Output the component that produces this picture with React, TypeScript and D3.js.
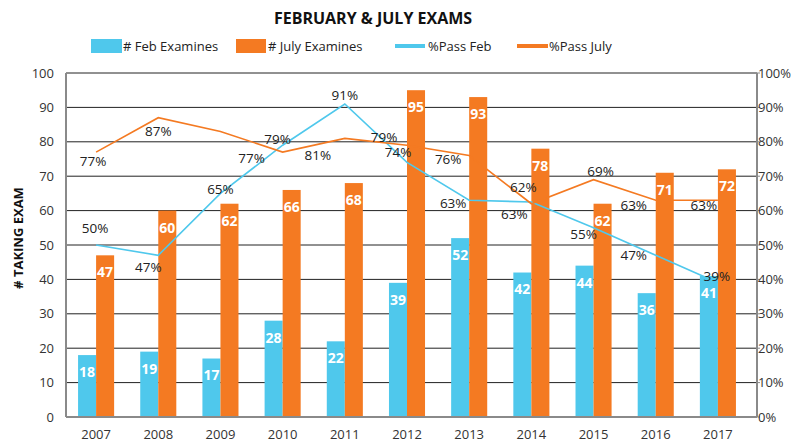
import React from "react";
import * as d3 from "d3";

const years = ["2007", "2008", "2009", "2010", "2011", "2012", "2013", "2014", "2015", "2016", "2017"];
const febExaminees = [18, 19, 17, 28, 22, 39, 52, 42, 44, 36, 41];
const julyExaminees = [47, 60, 62, 66, 68, 95, 93, 78, 62, 71, 72];
const passFeb = [0.5, 0.47, 0.65, 0.79, 0.91, 0.74, 0.63, 0.625, 0.55, 0.47, 0.39];
const passJuly = [0.77, 0.87, 0.83, 0.77, 0.81, 0.79, 0.76, 0.62, 0.69, 0.63, 0.63];
const leftTicks = [0, 10, 20, 30, 40, 50, 60, 70, 80, 90, 100];
const rightTicks = [0, 0.1, 0.2, 0.3, 0.4, 0.5, 0.6, 0.7, 0.8, 0.9, 1];

// label nudges (px) for the % labels, null = no label shown
const febLabelOffset: [number, number][] = [
  [-1, -17], [-10, 12], [0, -4], [-5, -6], [0, -9], [-9, -10],
  [-16, 3], [-17, 12], [-10, 6], [-22, 0], [-1, -7],
];
const julyLabelOffset: ([number, number] | null)[] = [
  [-3, 9], [0, 14], null, [-31, 6], [-27, 17], [-23, -8],
  [-21, 4], [-8, -16], [7, -8], [-22, 5], [-14, 5],
];

const BLUE = "#4FC8EC";
const ORANGE = "#F47A22";
const FONT = "'Open Sans', sans-serif";

const App = () => {
  const width = 791;
  const height = 442;
  const plotLeft = 66;
  const plotRight = 757;
  const top = 73;
  const bottom = 417;

  const x = d3.scaleBand().domain(years).range([65, 749]).padding(0);
  const yLeft = d3.scaleLinear().domain([0, 100]).range([bottom, top]);
  const yRight = d3.scaleLinear().domain([0, 1]).range([bottom, top]);
  const barW = x.bandwidth() * 0.29;
  const cx = (d: string) => (x(d) as number) + x.bandwidth() / 2;

  const line = d3
    .line<number>()
    .x((d, i) => cx(years[i]))
    .y((d) => yRight(d));

  const pct = d3.format(".0%");

  return (
    <svg width={width} height={height} style={{ position: "absolute", left: 0, top: 0 }}>
      <rect width={width} height={height} fill="#fff" />
      <text x={373} y={24} textAnchor="middle" fontFamily={FONT} fontWeight="bold" fontSize={16} fill="#111">
        FEBRUARY &amp; JULY EXAMS
      </text>

      {/* legend */}
      <g fontFamily={FONT} fontSize={13} fill="#222">
        <rect x={91} y={39} width={31} height={14} fill={BLUE} />
        <text x={123} y={50.5}># Feb Examines</text>
        <rect x={236} y={39} width={30} height={14} fill={ORANGE} />
        <text x={268} y={50.5}># July Examines</text>
        <line x1={395} x2={425} y1={46} y2={46} stroke={BLUE} strokeWidth={4} />
        <text x={428} y={50.5}>%Pass Feb</text>
        <line x1={517} x2={548} y1={46} y2={46} stroke={ORANGE} strokeWidth={4} />
        <text x={549} y={50.5}>%Pass July</text>
      </g>

      {/* grid */}
      {leftTicks.map((t) => (
        <line key={t} x1={plotLeft} x2={plotRight} y1={yLeft(t)} y2={yLeft(t)} stroke="#222" strokeWidth={1} />
      ))}

      {/* bars */}
      {years.map((yr, i) => (
        <g key={yr}>
          <rect x={cx(yr) - barW} y={yLeft(febExaminees[i])} width={barW} height={bottom - yLeft(febExaminees[i])} fill={BLUE} />
          <rect x={cx(yr)} y={yLeft(julyExaminees[i])} width={barW} height={bottom - yLeft(julyExaminees[i])} fill={ORANGE} />
          <text x={cx(yr) - barW / 2} y={yLeft(febExaminees[i]) + 17} dy="0.35em" textAnchor="middle"
            fontFamily={FONT} fontWeight="bold" fontSize={14} fill="#fff">{febExaminees[i]}</text>
          <text x={cx(yr) + barW / 2} y={yLeft(julyExaminees[i]) + 17} dy="0.35em" textAnchor="middle"
            fontFamily={FONT} fontWeight="bold" fontSize={14} fill="#fff">{julyExaminees[i]}</text>
        </g>
      ))}

      {/* axes */}
      <line x1={plotLeft} x2={plotLeft} y1={top} y2={bottom} stroke="#8a8a8a" strokeWidth={2} />
      <line x1={plotRight} x2={plotRight} y1={top} y2={bottom} stroke="#8a8a8a" strokeWidth={2} />
      <line x1={plotLeft} x2={plotRight} y1={bottom} y2={bottom} stroke="#8a8a8a" strokeWidth={2} />
      {rightTicks.map((t) => (
        <line key={t} x1={plotRight} x2={plotRight + 3} y1={yRight(t)} y2={yRight(t)} stroke="#8a8a8a" strokeWidth={1} />
      ))}

      {/* lines */}
      <path d={line(passFeb) || ""} fill="none" stroke={BLUE} strokeWidth={1.6} />
      <path d={line(passJuly) || ""} fill="none" stroke={ORANGE} strokeWidth={1.6} />

      {/* % labels */}
      <g fontFamily={FONT} fontSize={13.5} fill="#222" textAnchor="middle">
        {passFeb.map((v, i) => (
          <text key={"f" + i} x={cx(years[i]) + febLabelOffset[i][0]} y={yRight(v) + febLabelOffset[i][1]} dy="0.35em">
            {pct(v)}
          </text>
        ))}
        {passJuly.map((v, i) => {
          const off = julyLabelOffset[i];
          if (!off) return null;
          return (
            <text key={"j" + i} x={cx(years[i]) + off[0]} y={yRight(v) + off[1]} dy="0.35em">
              {pct(v)}
            </text>
          );
        })}
      </g>

      {/* tick labels */}
      <g fontFamily={FONT} fontSize={13} fill="#333">
        {leftTicks.map((t) => (
          <text key={t} x={54} y={yLeft(t)} dy="0.35em" textAnchor="end">{t}</text>
        ))}
        {rightTicks.map((t) => (
          <text key={t} x={758} y={yRight(t)} dy="0.35em">{pct(t)}</text>
        ))}
        {years.map((yr) => (
          <text key={yr} x={cx(yr)} y={439}  textAnchor="middle">{yr}</text>
        ))}
      </g>

      <text transform="translate(18,238) rotate(-90)" textAnchor="middle" dy="0.35em"
        fontFamily={FONT} fontWeight="bold" fontSize={13} fill="#111"># TAKING EXAM</text>
    </svg>
  );
};

export default App;
